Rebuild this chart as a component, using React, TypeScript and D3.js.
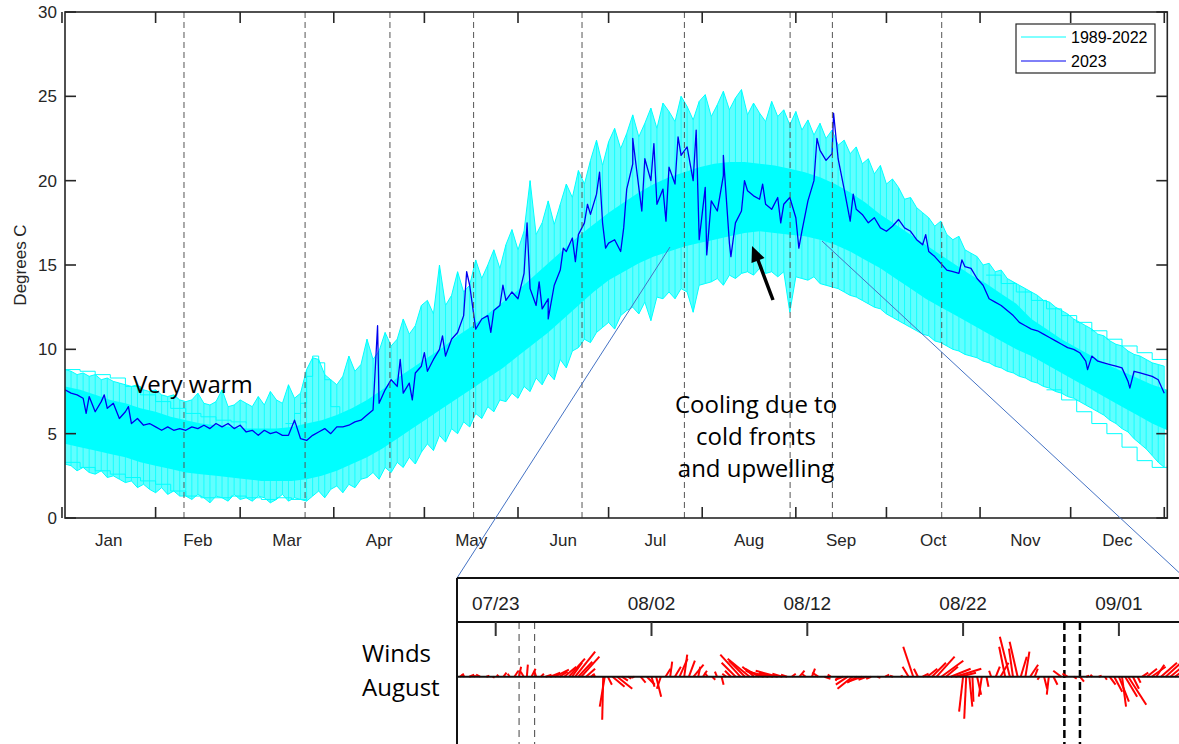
import React from 'react';
import * as d3 from 'd3';

const W = 1179;
const H = 744;

// ---------- main panel axes ----------
const MONTH_LABELS = ['Jan', 'Feb', 'Mar', 'Apr', 'May', 'Jun', 'Jul', 'Aug', 'Sep', 'Oct', 'Nov', 'Dec'];
const MONTH_STARTS = [0, 31, 59, 90, 120, 151, 181, 212, 243, 273, 304, 334, 365];
const Y_TICKS = [0, 5, 10, 15, 20, 25, 30];
const EVENT_DAYS = [40.4, 80.5, 108.6, 136.3, 172.2, 206.1, 241.1, 255.1, 291.3];

// ---------- 2023 series (day index 1,3,5,...) ----------
const T2023_START = 1;
const T2023_STEP = 2;
const temp2023 = [
  7.6, 7.4, 7.3, 7.1, 7.2, 6.3, 6.9, 6.5, 6.8, 5.9,
  6.3, 5.6, 5.9, 5.5, 5.6, 5.4, 5.2, 5.4, 5.2, 5.3,
  5.2, 5.4, 5.3, 5.5, 5.3, 5.6, 5.4, 5.6, 5.3, 5.5,
  5.1, 5.2, 4.9, 5.2, 5.0, 5.1, 4.9, 4.9, 5.8, 4.7,
  4.6, 4.9, 5.1, 5.3, 5.0, 5.4, 5.4, 5.5, 5.7, 5.8,
  6.1, 6.4, 6.8, 7.6, 8.2, 7.8, 7.4, 8.0, 8.6, 9.0,
  8.7, 9.4, 10.0, 9.6, 10.6, 11.0, 12.0, 13.8, 11.2, 11.8,
  12.0, 12.3, 12.6, 12.9, 13.4, 13.0, 14.5, 13.6, 12.6, 12.4,
  13.0, 13.8, 14.7, 15.8, 16.6, 16.8, 17.5, 18.0, 19.2, 17.5,
  16.3, 16.5, 15.8, 19.5, 21.0, 19.6, 21.3, 20.0, 18.6, 19.5,
  20.8, 19.8, 21.5, 22.0, 20.0, 16.5, 19.6, 18.8, 18.2, 20.3,
  16.3, 17.5, 18.2, 19.4, 19.1, 18.9, 18.6, 18.3, 19.0, 18.6,
  19.0, 17.8, 17.0, 18.8, 20.0, 21.8, 21.2, 21.6, 21.3, 19.5,
  17.6, 18.3, 18.0, 17.5, 17.8, 17.2, 17.0, 17.3, 17.7, 17.2,
  17.0, 16.5, 16.2, 15.8, 15.5, 15.1, 14.7, 14.6, 14.5, 14.9,
  14.8, 14.2, 13.8, 13.0, 12.8, 12.6, 12.3, 12.0, 11.6, 11.4,
  11.2, 11.1, 10.9, 10.7, 10.5, 10.3, 10.1, 10.0, 9.8, 9.3,
  9.6, 9.3, 9.2, 9.1, 9.0, 8.9, 8.1, 8.7, 8.6, 8.5,
  8.4, 8.2, 7.4,
];
// short-lived peaks / dips of 2023 (day, value)
const extreme2023Days = [
  8, 14, 22, 104.5, 112, 116, 120, 126, 134, 142, 146, 154, 158, 161, 166, 170, 174, 178, 180, 186,
  189, 192, 196, 200, 204, 210, 213.5, 219, 221.5, 226, 232, 238, 244, 250, 255.5, 262, 286, 298, 339.6, 353.6,
];
const extreme2023Vals = [
  6.2, 7.3, 6.6, 11.4, 9.4, 7.0, 9.8, 10.8, 14.6, 11.0, 13.8, 17.5, 14.0, 11.8, 16.0, 15.2, 18.6, 20.5, 16.0, 17.2,
  22.5, 18.2, 22.2, 17.6, 22.6, 23.0, 15.6, 21.5, 15.5, 20.0, 19.8, 17.5, 16.0, 22.5, 24.0, 19.2, 16.8, 15.3, 8.8, 7.7,
];

// ---------- 1989-2022 bundle ----------
const OUTER_START = 1;
const OUTER_STEP = 2;
const outerHigh = [
  8.8, 8.7, 8.5, 8.6, 8.4, 8.5, 8.2, 8.3, 8.1, 8.0,
  7.9, 7.8, 7.9, 7.6, 7.5, 7.6, 7.3, 7.2, 7.3, 7.0,
  6.9, 7.0, 7.4, 6.8, 6.7, 6.9, 7.6, 6.6, 6.7, 7.0,
  6.8, 6.6, 7.2, 6.7, 7.5, 7.0, 6.8, 7.9, 7.1, 7.4,
  8.8, 9.5, 9.4, 8.5, 8.2, 7.9, 8.4, 9.6, 8.7, 9.1,
  10.6, 9.4, 9.9, 11.0, 10.2, 10.6, 11.8, 10.9, 11.4, 12.6,
  12.9, 12.1, 15.0, 12.6, 13.2, 14.6, 13.4, 13.8, 15.3, 14.2,
  15.0, 15.9, 14.8, 16.2, 17.1, 15.9, 17.0, 20.0, 16.8, 17.5,
  18.8, 17.4, 18.6, 19.8, 19.0, 20.6, 19.8, 21.2, 22.4, 20.9,
  22.3, 23.1, 21.9, 22.8, 23.9, 22.6, 23.4, 24.3, 23.1, 24.6,
  24.1, 23.5, 25.0, 24.4, 23.6, 24.7, 25.1, 23.8, 24.5, 25.3,
  24.2, 24.9, 25.4, 23.9, 24.6, 24.0, 23.5, 24.7, 23.8, 24.2,
  23.3, 24.1, 23.0, 23.6, 22.7, 23.4, 22.5, 23.0, 22.1, 22.4,
  21.6, 22.0, 21.0, 21.3, 20.4, 20.9, 19.8, 20.1, 19.6, 18.9,
  19.0, 18.4, 18.1, 17.8, 17.3, 17.6, 16.8, 16.5, 16.7, 15.9,
  15.7, 15.5, 15.0, 15.1, 14.6, 14.7, 14.2, 14.0, 13.8, 13.6,
  13.4, 13.2, 12.9, 12.8, 12.5, 12.3, 12.1, 11.8, 11.6, 11.4,
  11.2, 10.9, 10.8, 10.5, 10.3, 10.2, 9.9, 9.7, 9.6, 9.4,
  9.2, 9.1, 9.0,
];
const outerLow = [
  3.2, 3.1, 2.8, 3.0, 2.7, 2.6, 2.8, 2.4, 2.5, 2.3,
  2.1, 2.2, 1.8, 2.0, 1.7, 1.5, 1.8, 1.4, 1.6, 1.3,
  1.3, 1.1, 1.4, 1.2, 0.9, 1.3, 1.2, 1.0, 1.4, 1.1,
  1.2, 1.0, 1.3, 1.2, 0.9, 1.1, 1.4, 1.0, 1.2, 1.1,
  1.0, 1.3, 1.6, 1.2, 1.7, 1.9, 1.5, 2.0, 1.8, 2.3,
  2.4, 2.7, 2.3, 3.0, 2.7, 3.3, 3.0, 3.6, 3.2, 3.9,
  4.4, 4.0, 4.9, 4.5, 5.3, 5.0, 5.7, 5.4, 6.2, 5.9,
  6.6, 6.3, 7.0, 6.9, 7.4, 7.1, 7.8, 7.5, 8.3, 7.9,
  8.6, 8.2, 9.4, 8.9, 9.9, 10.1, 10.6, 10.4, 11.0, 11.3,
  11.6, 11.2, 12.0, 12.3, 12.5, 12.1, 12.8, 11.7, 13.1, 13.0,
  13.4, 13.0, 13.6, 13.4, 12.2, 13.8, 13.9, 14.0, 14.2, 13.8,
  14.4, 14.2, 14.5, 14.6, 14.4, 14.8, 14.5, 14.6, 14.3, 14.6,
  12.2, 14.3, 14.2, 14.1, 14.3, 13.9, 13.8, 13.7, 13.6, 13.4,
  13.2, 13.1, 12.9, 12.7, 12.5, 12.4, 12.1, 11.9, 11.7, 11.5,
  11.3, 11.1, 10.9, 10.8, 10.5, 10.4, 10.2, 10.0, 9.9, 9.7,
  9.6, 9.5, 9.3, 9.2, 9.0, 8.9, 8.7, 8.6, 8.4, 8.3,
  8.1, 8.0, 7.8, 7.7, 7.5, 7.4, 7.2, 7.1, 6.9, 6.7,
  6.5, 6.3, 6.1, 5.8, 5.6, 5.3, 5.1, 4.7, 4.4, 4.1,
  3.7, 3.3, 3.0,
];
const CORE_START = 1;
const CORE_STEP = 5;
const coreHigh = [
  7.8, 7.6, 7.3, 7.0, 6.8, 6.5, 6.3, 6.0, 5.8, 5.6,
  5.5, 5.4, 5.3, 5.3, 5.3, 5.4, 5.6, 5.8, 6.1, 6.5,
  7.0, 7.6, 8.3, 8.9, 9.5, 10.1, 10.8, 11.4, 12.1, 12.8,
  13.5, 14.3, 15.1, 15.9, 16.7, 17.4, 18.1, 18.7, 19.3, 19.8,
  20.2, 20.5, 20.8, 21.0, 21.1, 21.1, 21.0, 20.9, 20.7, 20.5,
  20.2, 19.8, 19.3, 18.7, 18.0, 17.4, 16.8, 16.2, 15.6, 15.0,
  14.4, 13.9, 13.3, 12.7, 11.8, 11.2, 10.6, 10.1, 9.6, 9.1,
  8.7, 8.3, 7.9, 7.6,
];
const coreLow = [
  4.4, 4.2, 4.0, 3.8, 3.6, 3.3, 3.1, 2.9, 2.7, 2.6,
  2.5, 2.4, 2.3, 2.2, 2.2, 2.2, 2.3, 2.5, 2.8, 3.2,
  3.6, 4.1, 4.7, 5.3, 5.9, 6.5, 7.1, 7.7, 8.3, 8.9,
  9.6, 10.3, 11.0, 11.8, 12.6, 13.4, 14.1, 14.6, 15.1, 15.5,
  15.8, 16.1, 16.3, 16.5, 16.7, 16.9, 17.0, 16.9, 16.8, 16.7,
  16.5, 16.2, 15.8, 15.3, 14.8, 14.2, 13.6, 13.0, 12.5, 12.0,
  11.5, 11.0, 10.5, 10.0, 9.6, 9.1, 8.6, 8.1, 7.6, 7.1,
  6.6, 6.1, 5.6, 5.2,
];
// distinct single-year traces visible at the edges of the bundle
const warmJanDays = [1, 6, 11, 16, 21, 26, 31, 36, 41, 46, 51, 56, 61];
const warmJanVals = [8.8, 8.7, 8.5, 8.3, 7.8, 7.3, 6.9, 6.5, 6.2, 6.0, 5.8, 5.7, 5.6];
const coldJanDays = [1, 6, 11, 16, 21, 26, 31, 36, 41, 46, 51, 56, 61, 66, 71, 76, 81];
const coldJanVals = [3.3, 3.0, 2.8, 2.6, 2.4, 2.2, 2.0, 1.6, 1.3, 1.2, 1.2, 1.3, 1.2, 1.1, 1.2, 1.1, 1.3];
const marchDays = [74, 77, 79, 81, 83, 85, 87, 89, 92, 95];
const marchVals = [5.6, 6.2, 6.8, 8.4, 9.6, 9.2, 8.2, 6.6, 6.0, 6.3];
const autumnDays = [306, 311, 316, 321, 326, 331, 336, 341, 346, 351, 356, 361, 366];
const autumnVals = [14.4, 13.9, 13.4, 12.9, 12.4, 12.0, 11.6, 11.1, 10.6, 10.2, 9.8, 9.4, 9.0];
const decLowDays = [326, 331, 336, 341, 346, 351, 356, 361, 366];
const decLowVals = [7.6, 7.0, 6.3, 5.6, 5.0, 4.2, 3.4, 3.0, 3.1];

// ---------- wind panel ----------
const WIND_TICK_DAYS = [0, 10, 20, 30, 40];
const WIND_TICK_LABELS = ['07/23', '08/02', '08/12', '08/22', '09/01'];
const WIND_EVENT_THIN = [1.5, 2.5];
const WIND_EVENT_THICK = [36.5, 37.5];
const windDay = [
  -2.3, -2.0, -1.7, -1.4, -1.0, -0.6, -0.2, 0.2,
  0.5, 0.9, 1.2, 1.5, 1.8, 2.0, 2.3, 2.6, 2.9,
  3.2, 3.5, 3.8, 4.1, 4.4, 4.7, 4.9, 5.1, 5.3, 5.5, 5.8, 6.1, 6.4,
  6.9, 7.0, 7.2, 7.5, 7.8, 8.1,
  8.5, 8.9, 9.3, 9.7, 10.0, 10.3, 10.6,
  10.9, 11.2, 11.5, 11.8, 12.1, 12.4, 12.7, 13.0, 13.3,
  13.6, 13.9, 14.2, 14.5, 14.8,
  15.1, 15.4, 15.7, 16.0, 16.3, 16.6, 16.9,
  17.2, 17.5, 17.8, 18.1, 18.4, 18.7, 19.0,
  19.5, 19.9, 20.3, 20.7, 21.1, 21.5,
  22.0, 22.3, 22.6, 22.9, 23.2, 23.5, 23.8, 24.1, 24.5,
  25.0, 25.5, 26.0,
  26.5, 26.8, 27.1, 27.4, 27.7, 28.0, 28.3, 28.6, 28.9, 29.2, 29.5, 29.8,
  30.0, 30.2, 30.4, 30.6, 30.9, 31.2, 31.5,
  31.8, 32.1, 32.4, 32.7, 33.0, 33.2, 33.5, 33.7, 34.0, 34.3, 34.6,
  34.9, 35.2, 35.5, 35.8,
  36.3, 36.7, 37.1, 37.5, 37.9, 38.3, 38.7,
  39.1, 39.4, 39.7, 40.0, 40.2, 40.4, 40.6, 40.9, 41.2,
  41.5, 41.8, 42.1, 42.4, 42.7, 43.0, 43.3, 43.6,
];
const windU = [
  4, -3, 5, 2, -4, 3, 2, -2,
  3, -2, 4, 2, -3, 1, 4, -2, 3,
  6, 10, 14, 8, 12, 16, 10, 20, 14, 18, 9, 4, -3,
  -1, -5, 4, 12, 15, 6,
  3, -3, 5, 8, 3, 5, -4,
  5, 2, 6, 8, 3, 6, 10, 2, 4,
  -3, 3, -2, 2, -4,
  -6, -14, -20, -16, -22, -12, -14,
  -18, -20, -14, -22, -10, -6, 4,
  5, -4, 3, -6, 6, -3,
  -3, -8, -12, -15, -10, -14, -8, -5, 3,
  4, -3, 2,
  -6, -10, -4, 6, 10, 14, 18, 22, 12, 20, 26, 16,
  -4, -2, 3, 1, 4, -3, 2,
  -2, 4, 8, -6, -10, -4, -8, 6, 4, 8, 3,
  -2, 3, -2, 4,
  -8, -5, 3, 4, 3, -2, 3,
  2, 6, 8, 10, 4, 12, 18, 6, 3,
  6, 10, 14, 8, 16, 20, 12, 8,
];
const windV = [
  3, 2, 2, 1, 2, 1, -1, 2,
  4, 3, 6, 10, 5, 12, 8, 6, 3,
  2, 4, 7, 5, 10, 18, 14, 25, 15, 20, 8, 3, 2,
  -43, -30, -8, -10, -12, -4,
  -2, -1, -6, -8, -10, -20, -12,
  8, 15, 10, 18, 22, 16, 12, 10, 6,
  4, -3, 5, -8, 3,
  6, 14, 22, 16, 18, 10, 8,
  6, 5, 4, 6, 3, 2, 3,
  6, 3, 8, 4, -2, 2,
  -4, -3, -8, -12, -6, -5, -3, -2, -1,
  2, 1, 1,
  10, 30, 8, 3, 8, 14, 20, 16, 10, 8, 8, 4,
  -35, -42, -30, -25, -18, -20, -10,
  6, 10, 14, 30, 40, 28, 35, 20, 25, 12, 8,
  -3, -12, -18, -8,
  6, 3, -2, -5, 1, 2, 1,
  -3, -8, -15, -25, -30, -20, -28, -12, -6,
  4, 8, 10, 12, 14, 18, 10, 6,
];

const CYAN = '#00FFFF';
const BLUE = '#0000F0';
const AXIS = '#262626';
const TICK_FONT = '"Liberation Sans", Arial, Helvetica, sans-serif';
const NOTE_FONT = '"Open Sans", "Noto Sans", sans-serif';

function series(start: number, step: number, vals: number[]): [number, number][] {
  return vals.map((v, i) => [start + i * step, v]);
}

export default function App() {
  const x = d3.scaleLinear().domain([1, 366]).range([65, 1167.3]);
  const y = d3.scaleLinear().domain([0, 30]).range([518, 12]);
  const left = x.range()[0];
  const right = x.range()[1];
  const top = y(30);
  const bottom = y(0);

  type Band = { t: number; hi: number; lo: number };
  const outerPts: Band[] = outerHigh.map((h, i) => ({ t: OUTER_START + i * OUTER_STEP, hi: h, lo: outerLow[i] }));
  const corePts: Band[] = coreHigh.map((h, i) => ({ t: CORE_START + i * CORE_STEP, hi: h, lo: coreLow[i] }));
  const bandArea = d3
    .area<Band>()
    .x((d) => x(d.t))
    .y0((d) => y(d.lo))
    .y1((d) => y(d.hi));
  const stepLine = d3
    .line<[number, number]>()
    .x((d) => x(d[0]))
    .y((d) => y(d[1]))
    .curve(d3.curveStepAfter);
  const plainLine = d3
    .line<[number, number]>()
    .x((d) => x(d[0]))
    .y((d) => y(d[1]));

  const hiPts = outerPts.map((d) => [d.t, d.hi] as [number, number]);
  const loPts = outerPts.map((d) => [d.t, d.lo] as [number, number]);
  const yearLines: [number, number][][] = [
    warmJanDays.map((t, i) => [t, warmJanVals[i]] as [number, number]),
    coldJanDays.map((t, i) => [t, coldJanVals[i]] as [number, number]),
    marchDays.map((t, i) => [t, marchVals[i]] as [number, number]),
    autumnDays.map((t, i) => [t, autumnVals[i]] as [number, number]),
    decLowDays.map((t, i) => [t, decLowVals[i]] as [number, number]),
  ];

  const pts2023: [number, number][] = series(T2023_START, T2023_STEP, temp2023)
    .concat(extreme2023Days.map((t, i) => [t, extreme2023Vals[i]] as [number, number]))
    .sort((a, b) => a[0] - b[0]);

  const monthMids = MONTH_LABELS.map((m, i) => ({ m, t: (MONTH_STARTS[i] + MONTH_STARTS[i + 1]) / 2 }));

  const wx = d3.scaleLinear().domain([0, 10]).range([495.7, 651.5]);
  const wy0 = 676.7;
  const stick = d3.scaleLinear().domain([0, 1]).range([0, 1]);
  const wLeft = 457;
  const wTop = 578;
  const wAxisTop = 622;

  const tickLen = 11;

  return (
    <svg
      width={W}
      height={H}
      viewBox={`0 0 ${W} ${H}`}
      style={{ position: 'absolute', left: 0, top: 0, background: '#fff' }}
    >
      <defs>
        <clipPath id="plotClip">
          <rect x={left} y={top} width={right - left} height={bottom - top} />
        </clipPath>
      </defs>
      <rect x={0} y={0} width={W} height={H} fill="#fff" />

      <g clipPath="url(#plotClip)">
        <path d={bandArea(outerPts) || ''} fill={CYAN} fillOpacity={0.62} />
        <path d={plainLine(hiPts) || ''} fill="none" stroke={CYAN} strokeWidth={1} />
        <path d={plainLine(loPts) || ''} fill="none" stroke={CYAN} strokeWidth={1} />
        {outerPts.map((d, i) => (
          <line key={i} x1={x(d.t)} x2={x(d.t)} y1={y(d.lo)} y2={y(d.hi)} stroke={CYAN} strokeWidth={0.8} />
        ))}
        {yearLines.map((pts, i) => (
          <path key={i} d={stepLine(pts) || ''} fill="none" stroke={CYAN} strokeWidth={1} />
        ))}
        <path d={bandArea(corePts) || ''} fill={CYAN} />
        <path d={plainLine(pts2023) || ''} fill="none" stroke={BLUE} strokeWidth={1.3} strokeLinejoin="round" />
      </g>

      {EVENT_DAYS.map((t, i) => (
        <line key={i} x1={x(t)} x2={x(t)} y1={top} y2={bottom} stroke="#555" strokeWidth={1} strokeDasharray="6,4" />
      ))}

      <rect x={left} y={top} width={right - left} height={bottom - top} fill="none" stroke={AXIS} strokeWidth={1.6} />
      {MONTH_STARTS.map((t, i) => (
        <g key={i}>
          <line x1={x(t)} x2={x(t)} y1={bottom} y2={bottom - tickLen} stroke={AXIS} strokeWidth={1.6} />
          <line x1={x(t)} x2={x(t)} y1={top} y2={top + tickLen} stroke={AXIS} strokeWidth={1.6} />
        </g>
      ))}
      {Y_TICKS.map((v) => (
        <g key={v}>
          <line x1={left} x2={left + tickLen} y1={y(v)} y2={y(v)} stroke={AXIS} strokeWidth={1.6} />
          <line x1={right} x2={right - tickLen} y1={y(v)} y2={y(v)} stroke={AXIS} strokeWidth={1.6} />
          <text x={left - 8} y={y(v) + 6} textAnchor="end" fontFamily={TICK_FONT} fontSize={17} fill={AXIS}>
            {v}
          </text>
        </g>
      ))}
      {monthMids.map((d) => (
        <text key={d.m} x={x(d.t)} y={546} textAnchor="middle" fontFamily={TICK_FONT} fontSize={17} fill={AXIS}>
          {d.m}
        </text>
      ))}
      <text
        transform={`translate(26, ${(top + bottom) / 2}) rotate(-90)`}
        textAnchor="middle"
        fontFamily={TICK_FONT}
        fontSize={17}
        fill={AXIS}
      >
        Degrees C
      </text>

      <rect x={1016} y={24} width={139} height={49} fill="#fff" stroke={AXIS} strokeWidth={1.2} />
      <line x1={1021} x2={1066} y1={37} y2={37} stroke={CYAN} strokeWidth={1} />
      <text x={1071} y={43} fontFamily={TICK_FONT} fontSize={16} fill="#000">
        1989-2022
      </text>
      <line x1={1021} x2={1066} y1={61} y2={61} stroke={BLUE} strokeWidth={1} />
      <text x={1071} y={67} fontFamily={TICK_FONT} fontSize={16} fill="#000">
        2023
      </text>

      <text x={133} y={393} fontFamily={NOTE_FONT} fontSize={24} fill="#000">
        Very warm
      </text>
      <g fontFamily={NOTE_FONT} fontSize={24} fill="#000" textAnchor="middle">
        <text x={756} y={413}>Cooling due to</text>
        <text x={756} y={445}>cold fronts</text>
        <text x={756} y={477}>and upwelling</text>
      </g>
      <line x1={773} y1={300} x2={758} y2={260} stroke="#000" strokeWidth={3.5} />
      <polygon points="752,246 751.5,263 764.5,258" fill="#000" />

      <line x1={457} y1={578} x2={670} y2={247} stroke="#4472C4" strokeWidth={1} />
      <line x1={822} y1={241} x2={1200} y2={592} stroke="#4472C4" strokeWidth={1} />

      <g>
        {WIND_EVENT_THIN.map((d, i) => (
          <line key={'t' + i} x1={wx(d)} x2={wx(d)} y1={wAxisTop} y2={H} stroke="#444" strokeWidth={1} strokeDasharray="7,5" />
        ))}
        {WIND_EVENT_THICK.map((d, i) => (
          <line key={'k' + i} x1={wx(d)} x2={wx(d)} y1={wAxisTop} y2={H} stroke="#000" strokeWidth={2.5} strokeDasharray="8,4" />
        ))}
        {windDay.map((d, i) => (
          <line
            key={i}
            x1={wx(d)}
            y1={wy0}
            x2={wx(d) + stick(windU[i])}
            y2={wy0 - stick(windV[i])}
            stroke="#FF0000"
            strokeWidth={2}
          />
        ))}
        <line x1={wLeft} x2={W} y1={wy0} y2={wy0} stroke="#111" strokeWidth={2} />
        <line x1={wLeft} x2={W} y1={wTop} y2={wTop} stroke="#111" strokeWidth={2} />
        <line x1={wLeft} x2={W} y1={wAxisTop} y2={wAxisTop} stroke="#111" strokeWidth={2} />
        <line x1={wLeft} x2={wLeft} y1={wTop} y2={H} stroke="#111" strokeWidth={2} />
        {WIND_TICK_DAYS.map((d, i) => (
          <g key={d}>
            <line x1={wx(d)} x2={wx(d)} y1={wAxisTop} y2={wAxisTop + 14} stroke="#333" strokeWidth={2} />
            <text x={wx(d)} y={610} textAnchor="middle" fontFamily={TICK_FONT} fontSize={19} fill="#222">
              {WIND_TICK_LABELS[i]}
            </text>
          </g>
        ))}
        <text x={362} y={662} fontFamily={NOTE_FONT} fontSize={24} fill="#000">
          Winds
        </text>
        <text x={362} y={696} fontFamily={NOTE_FONT} fontSize={24} fill="#000">
          August
        </text>
      </g>
    </svg>
  );
}
